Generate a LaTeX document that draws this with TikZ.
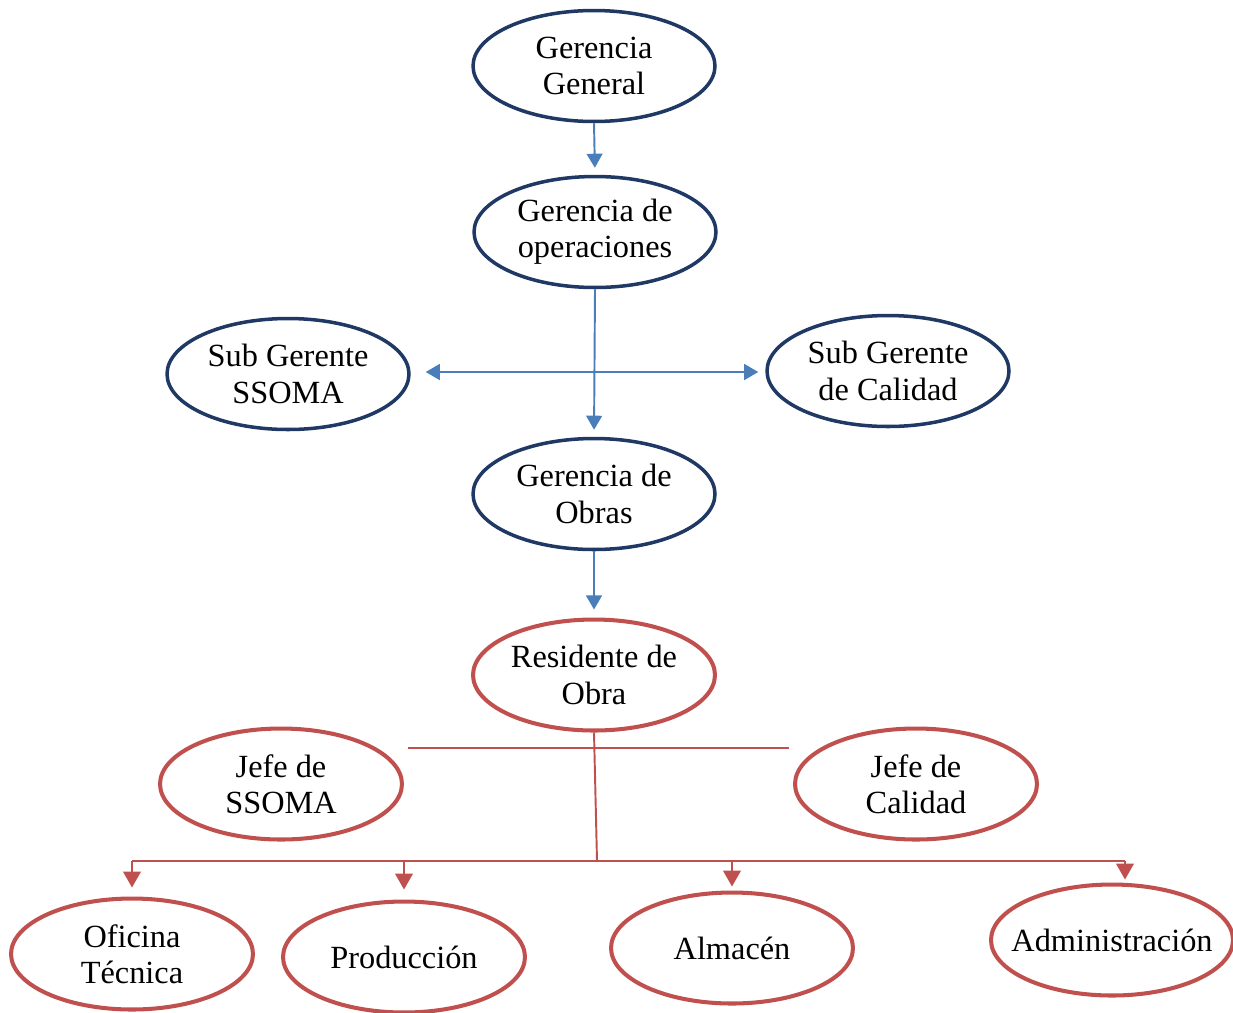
\documentclass[tikz,border=0pt]{standalone}
\usepackage{fontspec}
\setmainfont{Liberation Serif}
\usepackage{tikz}
\usetikzlibrary{arrows.meta, shapes.geometric}
\definecolor{orgNavy}{HTML}{1F3864}
\definecolor{orgBlue}{HTML}{4A7EBB}
\definecolor{orgRed}{HTML}{C0504D}
\def\xMid{594}
\tikzset{
  orgbox/.style={ellipse, draw=orgNavy, line width=2pt, minimum width=4.84cm,
    minimum height=2.22cm, inner sep=0pt, align=center,
    font=\fontsize{18.4}{20.6}\selectfont},
  orgred/.style={orgbox, draw=orgRed, line width=2.3pt},
  orgarr/.style={-{Triangle[length=8pt, width=9pt]}, orgBlue, line width=1.1pt},
  orgline/.style={orgRed, line width=1.1pt},
  orgredarr/.style={orgline, -{Triangle[length=9pt, width=10pt]}},
}
\begin{document}
\begin{tikzpicture}[x=0.02cm, y=-0.02cm]
  \useasboundingbox (0,0) rectangle (1233,1012);

  \node[orgbox] (gerGeneral) at (\xMid,66) {Gerencia\\General};
  \node[orgbox] (gerOperaciones) at (595,232) {Gerencia de\\operaciones};
  \node[orgbox] (subSsoma) at (288,374) {Sub Gerente\\SSOMA};
  \node[orgbox] (subCalidad) at (888,371) {Sub Gerente\\de Calidad};
  \node[orgbox] (gerObras) at (\xMid,494) {Gerencia de\\Obras};
  \node[orgred] (residente) at (\xMid,675) {Residente de\\Obra};
  \node[orgred] (jefeSsoma) at (281,784) {Jefe de\\SSOMA};
  \node[orgred] (jefeCalidad) at (916,784) {Jefe de\\Calidad};
  \node[orgred] (oficina) at (132,954) {Oficina\\Técnica};
  \node[orgred] (produccion) at (404,957) {Producción};
  \node[orgred] (almacen) at (732,948) {Almacén};
  \node[orgred, inner xsep=-0.3cm] (administracion) at (1112,940) {Administración};

  \coordinate (cruce) at (596,372);
  \coordinate (ramaJefes) at (597,748);
  \coordinate (bus) at (597,861);

  % linea de mando superior
  \draw[orgarr, shorten >=0.14cm] (gerGeneral.south) -- (gerOperaciones.north);
  \draw[orgarr, shorten >=0.14cm] (gerOperaciones.south) -- (gerObras.north);
  \draw[orgarr, shorten >=0.3cm] (cruce) -- (cruce -| subSsoma.east);
  \draw[orgarr, shorten >=0.14cm] (cruce) -- (cruce -| subCalidad.west);
  \draw[orgarr, shorten >=0.16cm] (gerObras.south) -- (residente.north);

  % obra
  \draw[orgline, shorten <=0.08cm, shorten >=0.08cm]
    (jefeSsoma.east |- ramaJefes) -- (jefeCalidad.west |- ramaJefes);
  \draw[orgline] (residente.south) -- (bus);
  \draw[orgline] (oficina.north |- bus) -- ([xshift=0.26cm]administracion.north |- bus);
  \draw[orgredarr, shorten >=0.18cm] (oficina.north |- bus) -- (oficina.north);
  \draw[orgredarr, shorten >=0.2cm] (produccion.north |- bus) -- (produccion.north);
  \draw[orgredarr, shorten >=0.08cm] (almacen.north |- bus) -- (almacen.north);
  \draw[orgredarr, shorten >=0.06cm] ([xshift=0.26cm]administracion.north |- bus)
    -- ([xshift=0.26cm]administracion.north);
\end{tikzpicture}
\end{document}
